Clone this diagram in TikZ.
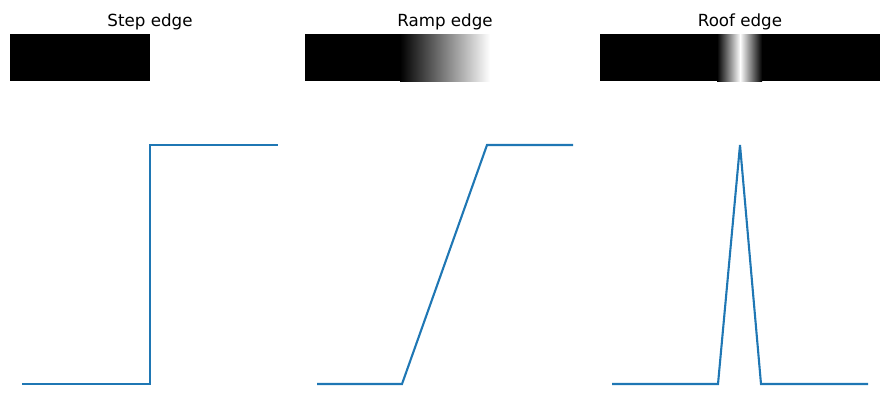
\documentclass[tikz,border=0pt]{standalone}
\usepackage{fontspec}
\setmainfont{DejaVu Sans}
\usepackage{xcolor}
\usepackage{tikz}

\definecolor{plotblue}{RGB}{31,119,180}

\begin{document}
\begin{tikzpicture}[x=1pt,y=-1pt,
  curve/.style={draw=plotblue,line width=2.1pt,line join=miter},
  title/.style={anchor=base,inner sep=0pt,font=\fontsize{16.7}{20}\selectfont}]
\useasboundingbox (0,0) rectangle (890,405);

% step edge
\node[title] (steptitle) at (150,26) {Step edge};
\fill[black] (10,34) rectangle (150,81);
\draw[curve] (22,384) -- (150,384) -- (150,145) -- (278,145);

% ramp edge
\node[title] (ramptitle) at (445,26) {Ramp edge};
\fill[black] (305,34) rectangle (400.5,81);
\begin{scope}
  \clip (400,34) rectangle (490,81);
  \shade[left color=black,right color=white] (400,20) rectangle (490,95);
\end{scope}
\draw[curve] (317,384) -- (402,384) -- (487,145) -- (573,145);

% roof edge
\node[title] (rooftitle) at (740,26) {Roof edge};
\fill[black] (600,34) rectangle (880,81);
\begin{scope}
  \clip (717,34) rectangle (762,81);
  \shade[left color=black,right color=white] (717,20) rectangle (740.3,95);
  \shade[left color=white,right color=black] (740,20) rectangle (762,95);
\end{scope}
\draw[curve] (612,384) -- (718,384) -- (740,145) -- (761,384) -- (868,384);

\end{tikzpicture}
\end{document}
